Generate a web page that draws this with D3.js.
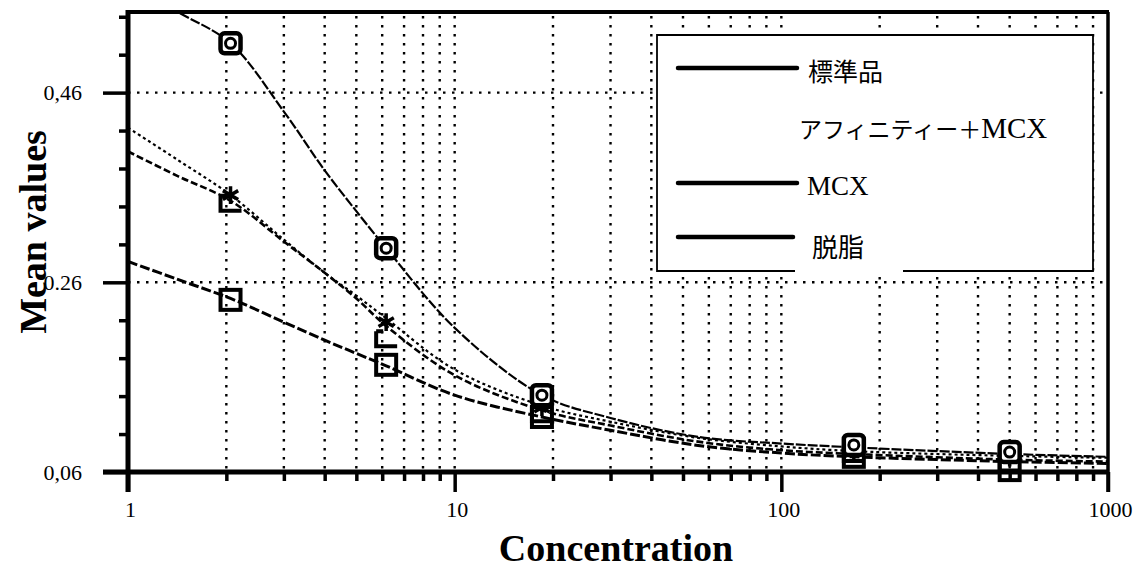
<!DOCTYPE html>
<html>
<head>
<meta charset="utf-8">
<script src="https://cdn.jsdelivr.net/npm/d3@7"></script>
<style>
  body { margin: 0; background: #fff; }
  svg { display: block; }
  .serif { font-family: "Liberation Serif", "Times New Roman", serif; }
  .jp { font-family: "Noto Sans CJK JP", sans-serif; }
</style>
</head>
<body>
<div id="chart"></div>
<script>
// measured concentrations (3-fold dilution)
var conc = [2.06, 6.17, 18.5, 166.7, 500];

// mean values at each concentration
var seriesNames = ['標準品', 'アフィニティー＋MCX', 'MCX', '脱脂'];
var stdValues = [0.512, 0.296, 0.141, 0.0885, 0.081];
var affValues = [0.352, 0.218, 0.128, 0.083, 0.075];
var mcxValues = [0.344, 0.201, 0.122, 0.080, 0.070];
var fatValues = [0.2415, 0.173, 0.118, 0.076, 0.062];

// fitted curves
var curveX = [1, 1.42, 2.06, 3, 4, 5, 6.17, 10, 18.5, 30, 55.6, 100, 166.7, 500, 1000];
var stdCurve = [0.575, 0.545, 0.512, 0.44, 0.378, 0.335, 0.296, 0.212, 0.141, 0.117, 0.097, 0.09, 0.086, 0.079, 0.076];
var affCurve = [0.423, 0.389, 0.352, 0.305, 0.27, 0.246, 0.222, 0.168, 0.13, 0.113, 0.096, 0.087, 0.082, 0.077, 0.075];
var mcxCurve = [0.398, 0.372, 0.346, 0.303, 0.27, 0.243, 0.214, 0.162, 0.125, 0.109, 0.092, 0.083, 0.079, 0.073, 0.071];
var fatCurve = [0.282, 0.263, 0.243, 0.218, 0.199, 0.185, 0.172, 0.141, 0.118, 0.104, 0.088, 0.08, 0.076, 0.071, 0.069];

var xMajor = [1, 10, 100, 1000];
var xMajorLabels = ['1', '10', '100', '1000'];
var yMajor = [0.06, 0.26, 0.46];
var yMajorLabels = ['0,06', '0.26', '0,46'];
var yMinor = [0.10, 0.14, 0.18, 0.22, 0.30, 0.34, 0.38, 0.42, 0.50, 0.54];

var W = 1138, H = 569;
var pLeft = 128, pRight = 1108, pTop = 12, pBottom = 472;

var x = d3.scaleLog().domain([1, 1000]).range([pLeft, pRight]);
var y = d3.scaleLinear().domain([0.06, 0.545]).range([pBottom, pTop]);

var xMinor = [];
[1, 10, 100].forEach(function (d) {
  for (var k = 2; k <= 9; k++) xMinor.push(d * k);
});

var svg = d3.select('#chart').append('svg')
  .attr('width', W)
  .attr('height', H);

svg.append('defs').append('clipPath').attr('id', 'plot')
  .append('rect')
  .attr('x', pLeft).attr('y', pTop)
  .attr('width', pRight - pLeft).attr('height', pBottom - pTop);

//dotted grid
var grid = svg.append('g')
  .attr('stroke', '#000')
  .attr('stroke-width', 2.4)
  .attr('stroke-dasharray', '2.5,6.5');

grid.selectAll('line.v')
  .data(xMinor.concat([10, 100]))
  .enter().append('line')
  .attr('class', 'v')
  .attr('x1', function (d) {return x(d);})
  .attr('x2', function (d) {return x(d);})
  .attr('y1', pTop + 4)
  .attr('y2', pBottom);

grid.selectAll('line.h')
  .data([0.26, 0.46])
  .enter().append('line')
  .attr('class', 'h')
  .attr('x1', pLeft)
  .attr('x2', pRight)
  .attr('y1', function (d) {return y(d);})
  .attr('y2', function (d) {return y(d);});

//legend box (drawn before the curves, it hides the grid)
var legend = svg.append('g');
legend.append('rect')
  .attr('x', 657).attr('y', 35)
  .attr('width', 436).attr('height', 236)
  .attr('fill', '#fff');
legend.append('path')
  .attr('d', 'M795,271 L657,271 L657,35 L1093,35 L1093,271 L903,271')
  .attr('fill', 'none')
  .attr('stroke', '#000')
  .attr('stroke-width', 1.8);

var legendLines = [
  {y: 68, x2: 797},
  {y: 183, x2: 797},
  {y: 237, x2: 793}
];

legend.selectAll('line')
  .data(legendLines)
  .enter().append('line')
  .attr('x1', 678)
  .attr('x2', function (d) {return d.x2;})
  .attr('y1', function (d) {return d.y;})
  .attr('y2', function (d) {return d.y;})
  .attr('stroke', '#000')
  .attr('stroke-width', 4.5)
  .attr('stroke-linecap', 'round');

legend.append('text').attr('class', 'jp')
  .attr('x', 808).attr('y', 70)
  .attr('dominant-baseline', 'central')
  .style('font-size', '25px')
  .text(seriesNames[0]);

var aff = legend.append('text')
  .attr('x', 799).attr('y', 128)
  .attr('dominant-baseline', 'central');
aff.append('tspan').attr('class', 'jp').style('font-size', '23px').text('アフィニティー＋');
aff.append('tspan').attr('class', 'serif').style('font-size', '29px').text('MCX');

legend.append('text').attr('class', 'serif')
  .attr('x', 807).attr('y', 186)
  .attr('dominant-baseline', 'central')
  .style('font-size', '27px')
  .text(seriesNames[2]);

legend.append('text').attr('class', 'jp')
  .attr('x', 812).attr('y', 245)
  .attr('dominant-baseline', 'central')
  .style('font-size', '26px')
  .text(seriesNames[3]);

//fitted curves
var line = d3.line()
  .x(function (d) {return x(d[0]);})
  .y(function (d) {return y(d[1]);})
  .curve(d3.curveCatmullRom.alpha(0.5));

var curves = [
  {vals: stdCurve, width: 2.2, dash: '10,2'},
  {vals: affCurve, width: 2.2, dash: '3,3'},
  {vals: mcxCurve, width: 2.6, dash: '7,3'},
  {vals: fatCurve, width: 3, dash: '10,3'}
];

var curveG = svg.append('g').attr('clip-path', 'url(#plot)');
curves.forEach(function (c) {
  curveG.append('path')
    .datum(curveX.map(function (cx, i) {return [cx, c.vals[i]];}))
    .attr('d', line)
    .attr('fill', 'none')
    .attr('stroke', '#000')
    .attr('stroke-width', c.width)
    .attr('stroke-dasharray', c.dash);
});

//markers
var marks = svg.append('g');

function pts(vals) {
  return conc.map(function (c, i) {return [c, vals[i]];});
}

// 脱脂 : open square
marks.selectAll('rect.fat')
  .data(pts(fatValues))
  .enter().append('rect')
  .attr('class', 'fat')
  .attr('x', function (d) {return x(d[0]) - 10;})
  .attr('y', function (d) {return y(d[1]) - 10;})
  .attr('width', 20).attr('height', 20)
  .attr('fill', 'none')
  .attr('stroke', '#000')
  .attr('stroke-width', 4);

// MCX : open-top square
marks.selectAll('path.mcx')
  .data(pts(mcxValues))
  .enter().append('path')
  .attr('class', 'mcx')
  .attr('d', function (d) {
    var cx = x(d[0]), cy = y(d[1]);
    return 'M' + (cx - 10) + ',' + (cy - 7) + ' L' + (cx - 10) + ',' + (cy + 8) +
      ' L' + (cx + 11) + ',' + (cy + 8) + ' M' + (cx - 10) + ',' + (cy - 7) + ' L' + (cx - 3) + ',' + (cy - 7);
  })
  .attr('fill', 'none')
  .attr('stroke', '#000')
  .attr('stroke-width', 4);

// アフィニティー＋MCX : asterisk
var star = d3.symbol().type(d3.symbolAsterisk).size(220);
marks.selectAll('path.aff')
  .data(pts(affValues))
  .enter().append('path')
  .attr('class', 'aff')
  .attr('transform', function (d) {return 'translate(' + x(d[0]) + ',' + y(d[1]) + ')';})
  .attr('d', star)
  .attr('fill', 'none')
  .attr('stroke', '#000')
  .attr('stroke-width', 3.5);

// 標準品 : square with a hole
var stdG = marks.selectAll('g.std')
  .data(pts(stdValues))
  .enter().append('g')
  .attr('class', 'std')
  .attr('transform', function (d) {return 'translate(' + x(d[0]) + ',' + y(d[1]) + ')';});
stdG.append('rect')
  .attr('x', -10).attr('y', -10)
  .attr('width', 20).attr('height', 20)
  .attr('rx', 4)
  .attr('fill', '#fff')
  .attr('stroke', '#000')
  .attr('stroke-width', 4.5);
stdG.append('circle')
  .attr('r', 5)
  .attr('fill', 'none')
  .attr('stroke', '#000')
  .attr('stroke-width', 3);

//axes
var xMinorAxis = d3.axisBottom(x).tickValues(xMinor).tickSize(9).tickFormat('');
var xMajorAxis = d3.axisBottom(x).tickValues(xMajor).tickSize(20)
  .tickFormat(function (d, i) {return xMajorLabels[i];});

var gx1 = svg.append('g').attr('transform', 'translate(0,' + pBottom + ')').call(xMinorAxis);
var gx2 = svg.append('g').attr('transform', 'translate(0,' + pBottom + ')').call(xMajorAxis);
[gx1, gx2].forEach(function (g) {
  g.select('.domain').remove();
  g.selectAll('.tick line').attr('stroke-width', 3.5);
});
gx2.selectAll('.tick text')
  .attr('class', 'serif')
  .attr('y', 0)
  .attr('dy', 0)
  .attr('transform', 'translate(2,45)')
  .style('font-size', '22px')
  .attr('fill', '#000');

var yMinorAxis = d3.axisLeft(y).tickValues(yMinor).tickSize(9).tickFormat('');
var yMajorAxis = d3.axisLeft(y).tickValues(yMajor).tickSize(25)
  .tickFormat(function (d, i) {return yMajorLabels[i];});

var gy1 = svg.append('g').attr('transform', 'translate(' + pLeft + ',0)').call(yMinorAxis);
var gy2 = svg.append('g').attr('transform', 'translate(' + pLeft + ',0)').call(yMajorAxis);
[gy1, gy2].forEach(function (g) {
  g.select('.domain').remove();
  g.selectAll('.tick line').attr('stroke-width', 3.5);
});
gy2.selectAll('.tick text')
  .attr('class', 'serif')
  .attr('x', -46)
  .attr('dy', '0.32em')
  .style('font-size', '22px')
  .attr('fill', '#000');

//frame
var frame = svg.append('g').attr('stroke', '#000').attr('fill', 'none');
frame.append('line').attr('x1', pLeft).attr('x2', pLeft).attr('y1', pTop - 2).attr('y2', pBottom + 20).attr('stroke-width', 5);
frame.append('line').attr('x1', pLeft - 25).attr('x2', pRight).attr('y1', pBottom).attr('y2', pBottom).attr('stroke-width', 5);
frame.append('line').attr('x1', pLeft).attr('x2', pRight + 1).attr('y1', pTop).attr('y2', pTop).attr('stroke-width', 4);
frame.append('line').attr('x1', pRight).attr('x2', pRight).attr('y1', pTop).attr('y2', pBottom + 20).attr('stroke-width', 3.5);

//axis titles
svg.append('text')
  .attr('class', 'serif')
  .attr('transform', 'translate(46,232) rotate(-90)')
  .attr('text-anchor', 'middle')
  .style('font-size', '38px')
  .style('font-weight', 'bold')
  .text('Mean values');

svg.append('text')
  .attr('class', 'serif')
  .attr('x', 616)
  .attr('y', 561)
  .attr('text-anchor', 'middle')
  .style('font-size', '38px')
  .style('font-weight', 'bold')
  .text('Concentration');
</script>
</body>
</html>
